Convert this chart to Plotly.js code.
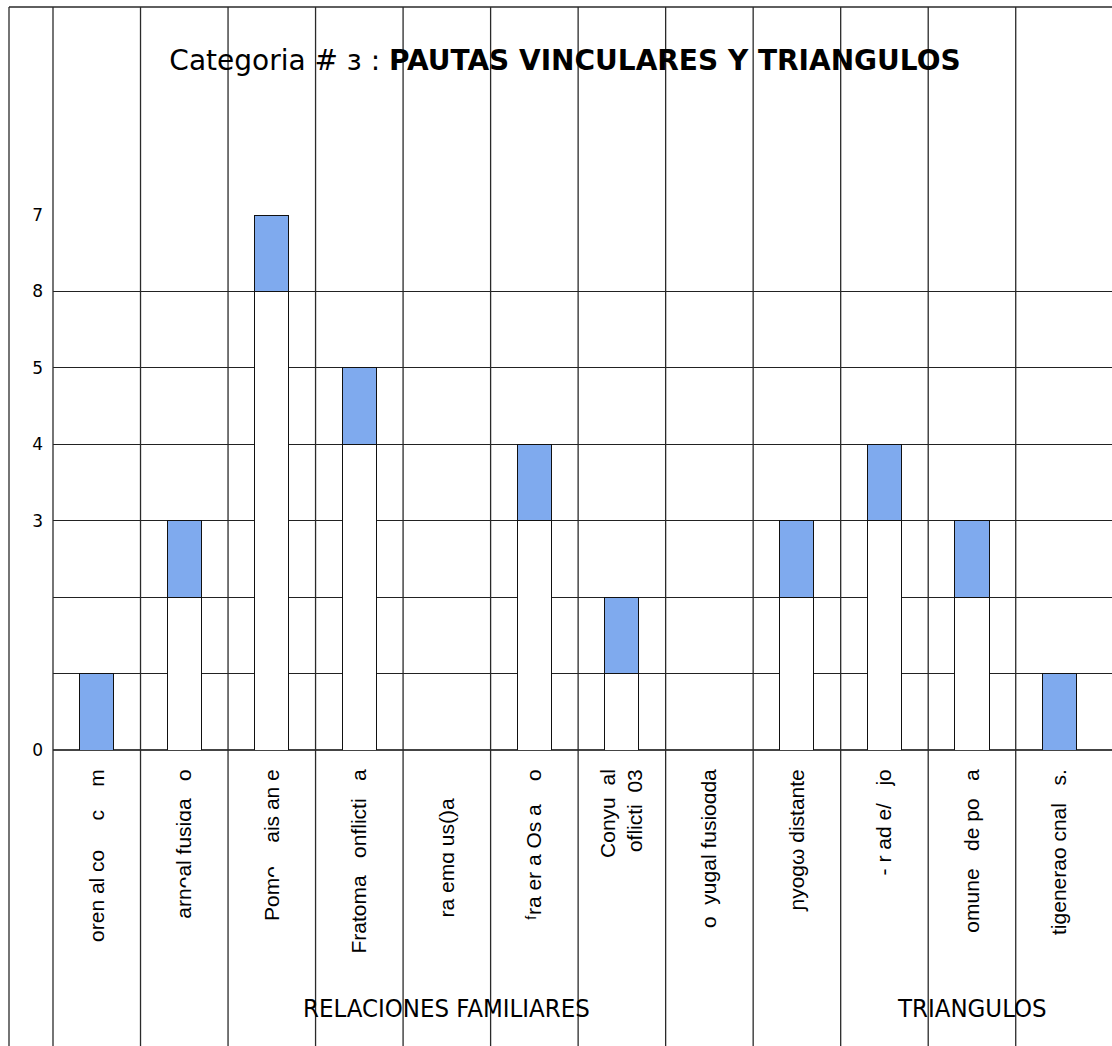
<!DOCTYPE html>
<html>
<head>
<meta charset="utf-8">
<script src="https://cdn.plot.ly/plotly-3.0.1.min.js"></script>
<style>
  html, body { margin: 0; padding: 0; background: #fff; }
  #chart { width: 1112px; height: 1046px; }
</style>
</head>
<body>
<div id="chart"></div>
<script>
var S = '\u00a0';
function gap(n) { return new Array(n + 1).join(S); }

// category labels as they show in the picture (rotated)
var categories = [
    'oren al co' + gap(5) + 'c' + gap(4) + 'm',
    'arn\u1d16al fusi\u0251a' + gap(3) + 'o',
    'Pom\u1d16' + gap(4) + 'ais an e',
    'Fratoma' + gap(3) + 'onflicti' + gap(3) + 'a',
    'ra em\u0251 us()a' + gap(5),
    '\u1da0ra er a Os a' + gap(4) + 'o',
    'Conyu' + gap(2) + 'al<br>oflicti' + gap(2) + '03',
    'o' + gap(2) + 'yugal fusio\u0251da',
    '\u0272yog\u03c9 distante',
    '- r ad e/' + gap(3) + 'jo',
    'omune' + gap(3) + 'de po' + gap(3) + 'a',
    'tigenerao cnal' + gap(3) + 's.'
];
var totals = [1, 3, 7, 5, 0, 4, 2, 0, 3, 4, 3, 1];
var baseValues = [0, 2, 6, 4, 0, 3, 1, 0, 2, 3, 2, 0];   // white lower part
var topValues = [1, 1, 1, 1, 0, 1, 1, 0, 1, 1, 1, 1];    // blue upper part

var yTickVals = [0, 1, 2, 3, 4, 5, 6, 7];
var yTickText = ['0', '', '', '3', '4', '5', '8', '7'];

var groups = ['RELACIONES FAMILIARES', 'TRIANGULOS'];
var groupCenters = [4, 10];

var xRange = [-0.5, 11.6];
var plotLeft = 53, plotWidth = 1059, plotTop = 215, plotHeight = 535;

function paperX(px) { return (px - plotLeft) / plotWidth; }
function paperY(py) { return (plotTop + plotHeight - py) / plotHeight; }
function catToPaper(c) { return (c - xRange[0]) / (xRange[1] - xRange[0]); }

var shapes = [];
// cell borders between categories, running the whole height
for (var i = 0; i < categories.length - 1; i++) {
    shapes.push({
        type: 'line', xref: 'paper', yref: 'paper',
        x0: catToPaper(i + 0.5), x1: catToPaper(i + 0.5),
        y0: paperY(7), y1: paperY(1046),
        line: {color: '#2a2a2a', width: 1.3}
    });
}
// left edge of plot and outer frame
shapes.push({
    type: 'line', xref: 'paper', yref: 'paper', x0: 0, x1: 0,
    y0: paperY(7), y1: paperY(1046), line: {color: '#2a2a2a', width: 1.3}
});
shapes.push({
    type: 'line', xref: 'paper', yref: 'paper', x0: paperX(9), x1: paperX(9),
    y0: paperY(7), y1: paperY(1046), line: {color: '#2a2a2a', width: 1.3}
});
shapes.push({
    type: 'line', xref: 'paper', yref: 'paper', x0: paperX(9), x1: 1,
    y0: paperY(7), y1: paperY(7), line: {color: '#2a2a2a', width: 1.3}
});

var annotations = groups.map(function (g, k) {
    return {
        text: g, xref: 'x', yref: 'paper',
        x: groupCenters[k], y: paperY(1008),
        xanchor: 'center', yanchor: 'middle', showarrow: false,
        font: {family: 'DejaVu Sans Condensed, DejaVu Sans', size: 25.5, color: '#000'}
    };
});

var traces = [
    {
        type: 'bar', x: categories, y: baseValues,
        marker: {color: '#ffffff', line: {color: '#111', width: 1}},
        hoverinfo: 'skip'
    },
    {
        type: 'bar', x: categories, y: topValues,
        customdata: totals,
        marker: {color: '#7faaee', line: {color: '#111', width: 1}},
        hovertemplate: '%{x}: %{customdata}<extra></extra>'
    }
];

var layout = {
    width: 1112,
    height: 1046,
    barmode: 'stack',
    bargap: 0.61,
    showlegend: false,
    paper_bgcolor: '#fff',
    plot_bgcolor: '#fff',
    margin: {l: plotLeft, r: 0, t: plotTop, b: 1046 - plotTop - plotHeight, pad: 0},
    title: {
        text: 'Categoria # \u0437 : <b>PAUTAS VINCULARES Y TRIANGULOS</b>',
        font: {family: 'DejaVu Sans', size: 28, color: '#000'},
        x: 565 / 1112, xanchor: 'center', xref: 'container',
        y: 1 - 60 / 1046, yanchor: 'middle', yref: 'container'
    },
    xaxis: {
        type: 'category',
        range: xRange,
        showgrid: false,
        zeroline: false,
        showline: false,
        ticks: '',
        tickangle: -90,
        ticklabelstandoff: 14,
        tickfont: {family: 'Liberation Sans', size: 21, color: '#000'},
        fixedrange: true
    },
    yaxis: {
        range: [0, 7],
        tickvals: yTickVals,
        ticktext: yTickText,
        showgrid: true,
        gridcolor: '#222',
        gridwidth: 1.2,
        zeroline: true,
        zerolinecolor: '#444',
        zerolinewidth: 2,
        showline: false,
        ticks: '',
        ticklabelstandoff: 9,
        tickfont: {family: 'DejaVu Sans', size: 17, color: '#000'},
        fixedrange: true
    },
    shapes: shapes,
    annotations: annotations
};

Plotly.newPlot('chart', traces, layout, {displayModeBar: false, staticPlot: true});
</script>
</body>
</html>
